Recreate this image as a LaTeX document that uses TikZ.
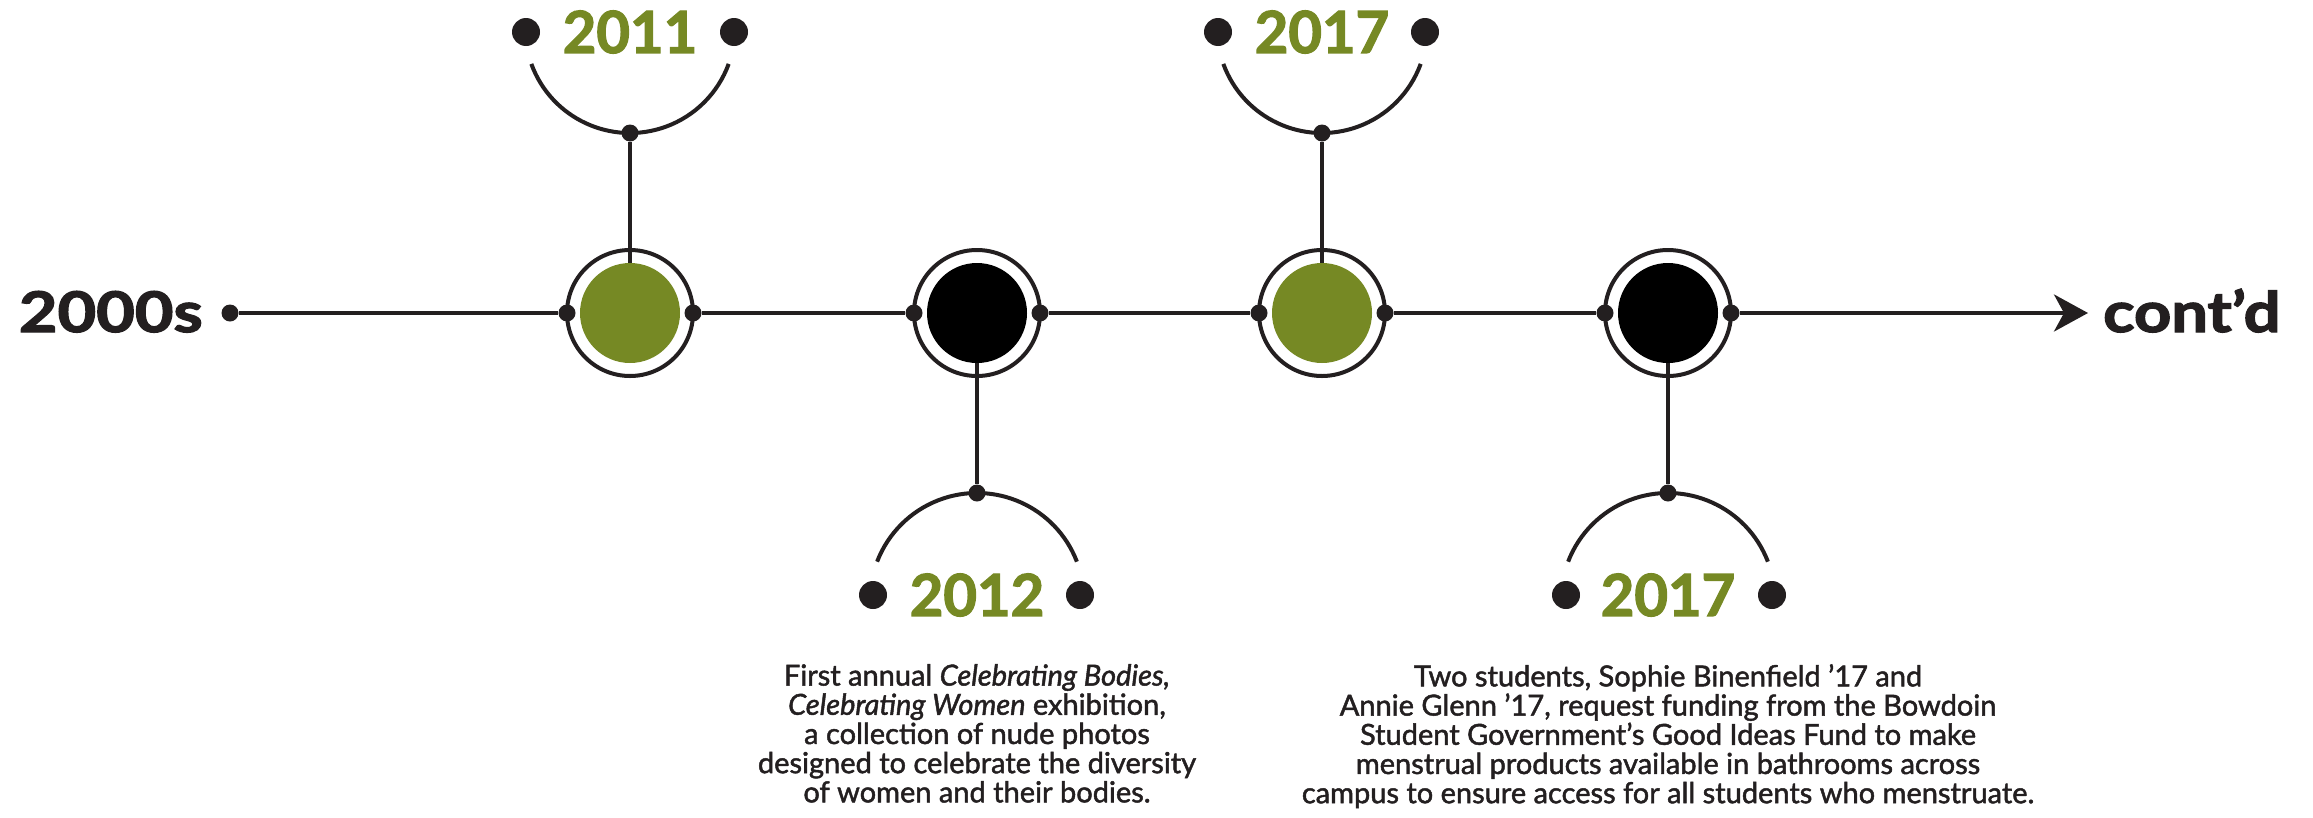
\documentclass[tikz,border=0pt]{standalone}
\usepackage{fontspec}
\setmainfont{Lato}
\newfontfamily\bodyfont[FakeBold=1.6]{Lato}
\newfontfamily\heavyfont[FakeBold=2.2]{Lato}
\usetikzlibrary{arrows.meta}
\definecolor{olivegreen}{RGB}{118,137,36}
\definecolor{ink}{RGB}{35,31,32}
\begin{document}
\begin{tikzpicture}[x=1pt,y=1pt,
  line/.style={draw=ink,line width=4pt},
  ring/.style={circle,draw=ink,line width=4pt,minimum size=126pt,inner sep=0pt},
  coreg/.style={circle,fill=olivegreen,minimum size=100pt,inner sep=0pt},
  coreb/.style={circle,fill=black,minimum size=100pt,inner sep=0pt},
  jdot/.style={circle,fill=ink,minimum size=17pt,inner sep=0pt},
  ydot/.style={circle,fill=ink,minimum size=28pt,inner sep=0pt},
  year/.style={font=\heavyfont\bfseries\fontsize{58}{58}\selectfont,text=olivegreen,inner sep=0pt},
  body/.style={font=\bodyfont\fontsize{29}{29.2}\selectfont,text=ink,align=center,inner sep=0pt,anchor=north},
  big/.style={font=\heavyfont\bfseries\fontsize{56}{56}\selectfont,text=ink,inner sep=0pt}]
\path[use as bounding box] (0,0) rectangle (2313,-817);

% rings and cores
\node[ring] (r1) at (630,-313) {};
\node[coreg] (c1) at (630,-313) {};
\node[ring] (r2) at (977,-313) {};
\node[coreb] (c2) at (977,-313) {};
\node[ring] (r3) at (1322,-313) {};
\node[coreg] (c3) at (1322,-313) {};
\node[ring] (r4) at (1668,-313) {};
\node[coreb] (c4) at (1668,-313) {};

% junction dots
\node[jdot] (s0) at (230,-313) {};
\node[jdot] (r1w) at (567,-313) {};
\node[jdot] (r1e) at (693,-313) {};
\node[jdot] (r2w) at (914,-313) {};
\node[jdot] (r2e) at (1040,-313) {};
\node[jdot] (r3w) at (1259,-313) {};
\node[jdot] (r3e) at (1385,-313) {};
\node[jdot] (r4w) at (1605,-313) {};
\node[jdot] (r4e) at (1731,-313) {};
\coordinate (endc) at (2088,-313);

% arc dots
\node[jdot] (a1) at (630,-133) {};
\node[jdot] (a2) at (977,-493) {};
\node[jdot] (a3) at (1322,-133) {};
\node[jdot] (a4) at (1668,-493) {};

% arc centres
\coordinate (k1) at (630,-28);
\coordinate (k2) at (977,-600);
\coordinate (k3) at (1322,-28);
\coordinate (k4) at (1668,-600);

% timeline
\draw[line] (s0) -- (r1w);
\draw[line] (r1e) -- (r2w);
\draw[line] (r2e) -- (r3w);
\draw[line] (r3e) -- (r4w);
\draw[line,-{Stealth[length=34pt,width=37pt,inset=10pt]}] (r4e) -- (endc);

% stems
\draw[line] (a1) -- (c1);
\draw[line] (a2) -- (c2);
\draw[line] (a3) -- (c3);
\draw[line] (a4) -- (c4);

% arcs
\draw[line] ([shift={(200:105)}]k1) arc[start angle=200,end angle=340,radius=105];
\draw[line] ([shift={(200:105)}]k3) arc[start angle=200,end angle=340,radius=105];
\draw[line] ([shift={(21:107)}]k2) arc[start angle=21,end angle=159,radius=107];
\draw[line] ([shift={(21:107)}]k4) arc[start angle=21,end angle=159,radius=107];

% years
\node[year] (y1) at (630,-32) {2011};
\node[ydot] (y1l) at (526,-32) {};
\node[ydot] (y1r) at (734,-32) {};
\node[year] (y2) at (977,-595) {2012};
\node[ydot] (y2l) at (873,-595) {};
\node[ydot] (y2r) at (1080,-595) {};
\node[year] (y3) at (1322,-32) {2017};
\node[ydot] (y3l) at (1218,-32) {};
\node[ydot] (y3r) at (1425,-32) {};
\node[year] (y4) at (1668,-595) {2017};
\node[ydot] (y4l) at (1566,-595) {};
\node[ydot] (y4r) at (1772,-595) {};

% end labels
\node[big,anchor=base east] (start) at (203,-332) {\scalebox{1.19}[1]{2000s}};
\node[big,anchor=base west] (contd) at (2103,-332) {\scalebox{1.16}[1]{cont’d}};

% descriptions
\node[body] (t2) at (977,-664) {First annual \textit{Celebrating Bodies,}\\
\textit{Celebrating Women} exhibition,\\
a collection of nude photos\\
designed to celebrate the diversity\\
of women and their bodies.};
\node[body] (t4) at (1668,-664) {Two students, Sophie Binenfield ’17 and\\
Annie Glenn ’17, request funding from the Bowdoin\\
Student Government’s Good Ideas Fund to make\\
menstrual products available in bathrooms across\\
campus to ensure access for all students who menstruate.};
\end{tikzpicture}
\end{document}
